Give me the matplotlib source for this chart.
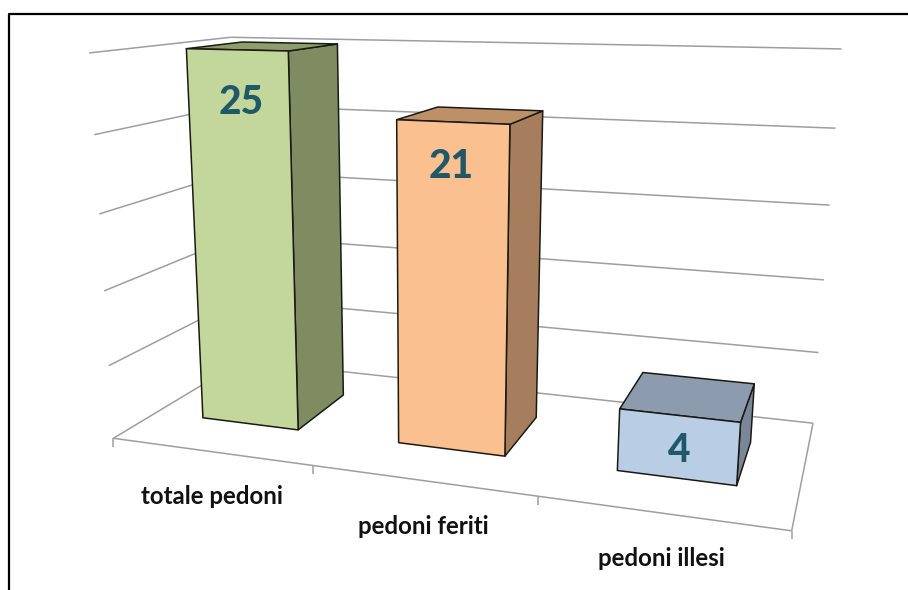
import numpy as np
import matplotlib
matplotlib.use('Agg')
import matplotlib.pyplot as plt
from matplotlib.patches import Polygon

categories = ['totale pedoni', 'pedoni feriti', 'pedoni illesi']
values = [25, 21, 4]
y_ticks = [0, 5, 10, 15, 20, 25]

front_colors = ['#C3D69B', '#FBC08F', '#B9CDE5']
side_colors = ['#7F8B61', '#A67E5E', '#7A8799']
top_colors = ['#8F9D6C', '#BD9068', '#8C9BAD']
text_color = '#215868'
grid_color = '#9E9E9E'

# where the chart box corners land on the picture: (category, depth, value) -> pixels
box_3d = [(0, 0, 0), (3, 0, 0), (3, 1, 0), (0, 1, 0), (0, 0, 25), (3, 1, 25), (0, 1, 25)]
box_px = [(116, 439), (791, 531), (814, 423), (240, 360), (87, 52), (841, 49), (233, 38)]

# fit a perspective camera to those corners
rows = []
rhs = []
for (u, d, v), (px, py) in zip(box_3d, box_px):
    rows.append([u, d, v, 1, 0, 0, 0, 0, -px * u, -px * d, -px * v])
    rows.append([0, 0, 0, 0, u, d, v, 1, -py * u, -py * d, -py * v])
    rhs += [px, py]
cam = np.linalg.lstsq(np.array(rows, float), np.array(rhs, float), rcond=None)[0]
cam = np.append(cam, 1).reshape(3, 4)


def project(u, d, v):
    p = cam @ np.array([u, d, v, 1.0])
    return p[0] / p[2], p[1] / p[2]


fig = plt.figure(figsize=(9.08, 5.9), dpi=100)
ax = fig.add_axes([0, 0, 1, 1])
ax.set_xlim(0, 908)
ax.set_ylim(590, 0)
ax.axis('off')

# picture frame
ax.plot([8.5, 8.5, 908], [590, 13.5, 13.5], color='black', lw=1.6, zorder=1)


def line(a, b, lw=1.1):
    ax.plot([a[0], b[0]], [a[1], b[1]], color=grid_color, lw=lw, zorder=2, solid_capstyle='butt')


# gridlines on the left and back walls
for t in y_ticks:
    line(project(0, 0, t), project(0, 1, t))
    line(project(0, 1, t), project(3, 1, t))

# floor
line(project(0, 0, 0), project(3, 0, 0))
line(project(3, 0, 0), project(3, 1, 0))
for i in range(4):
    a = project(i, 0, 0)
    line(a, (a[0], a[1] + 8.5))

# bars
u_gap = 0.25
d0, d1 = 0.30, 0.72
for i, val in enumerate(values):
    u0, u1 = i + u_gap, i + 1 - u_gap
    front = [project(u0, d0, 0), project(u1, d0, 0), project(u1, d0, val), project(u0, d0, val)]
    side = [project(u1, d0, 0), project(u1, d1, 0), project(u1, d1, val), project(u1, d0, val)]
    top = [project(u0, d0, val), project(u1, d0, val), project(u1, d1, val), project(u0, d1, val)]
    for pts, col in [(side, side_colors[i]), (top, top_colors[i]), (front, front_colors[i])]:
        ax.add_patch(Polygon(pts, closed=True, facecolor=col, edgecolor='#1A1A14', lw=1.1, zorder=3,
                             joinstyle='round'))

# value labels and category labels
value_pos = [(241, 103), (451, 166), (678, 450)]
label_pos = [(212, 497), (423, 526), (661, 558)]
for val, p in zip(values, value_pos):
    ax.text(p[0], p[1], str(val), family='Lato', weight='black', fontsize=28, color=text_color,
            ha='center', va='center', zorder=4)
for cat, p in zip(categories, label_pos):
    ax.text(p[0], p[1], cat, family='Lato', weight='bold', fontsize=17.3, color='#111111',
            ha='center', va='center', zorder=4)

fig.savefig('out.png', dpi=100)
